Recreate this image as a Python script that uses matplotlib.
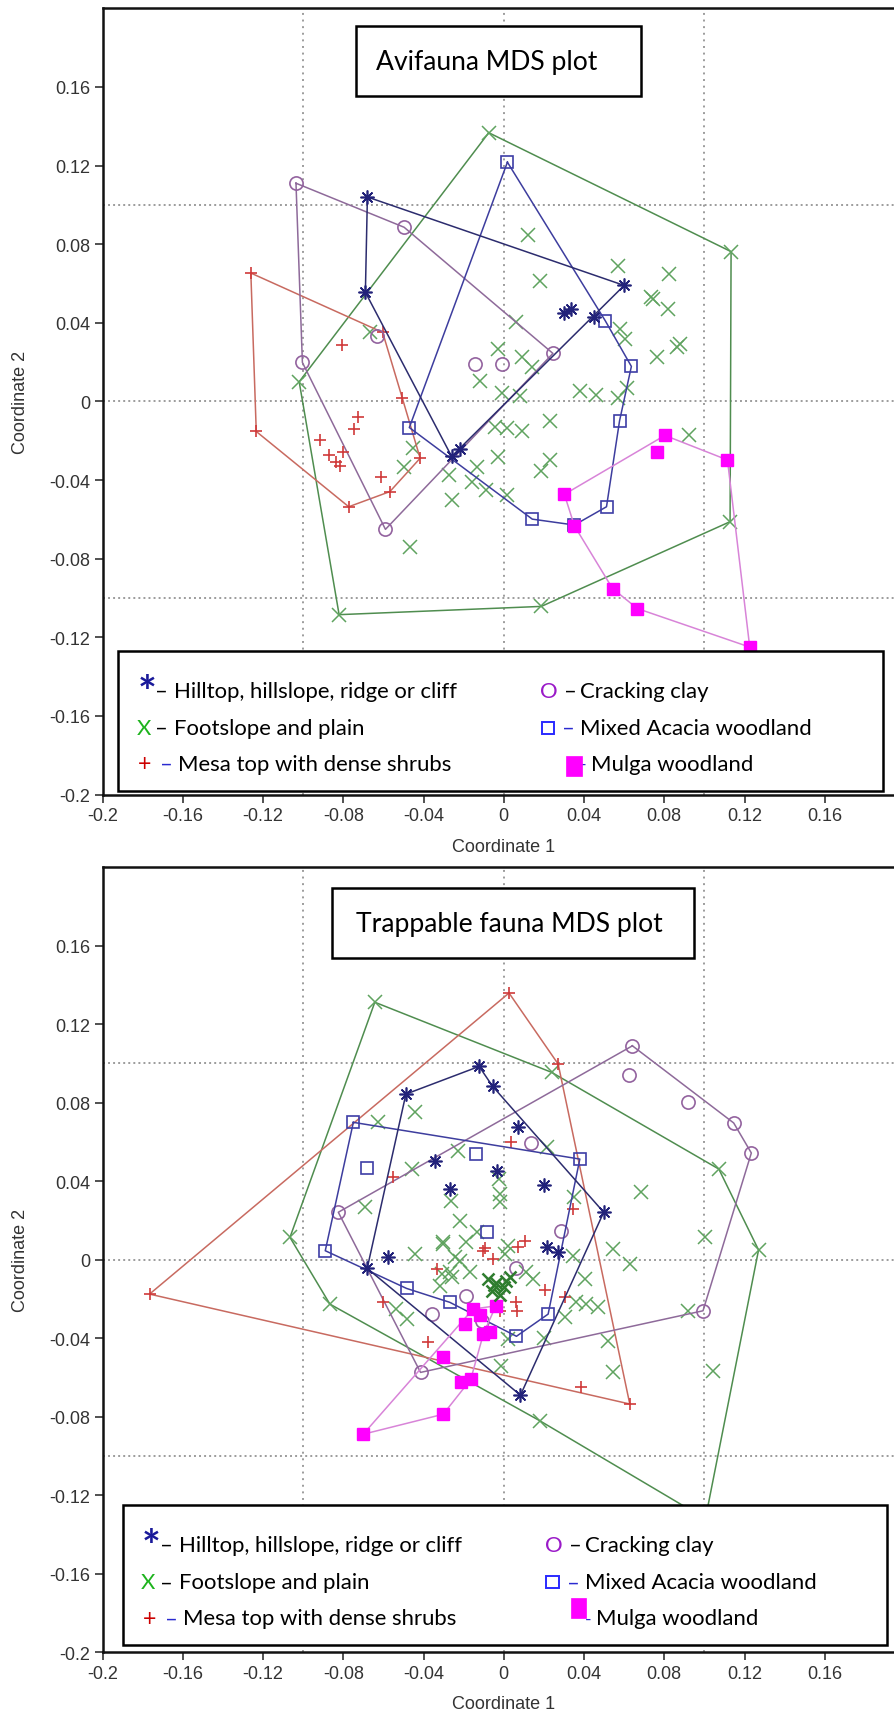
import matplotlib
matplotlib.use("Agg")
import matplotlib.pyplot as plt
from matplotlib.patches import Rectangle

plt.rcParams['font.family'] = ['Liberation Sans', 'DejaVu Sans']

W, H = 894, 1715

# ---------------- tick values / labels ----------------
tick_vals = [-0.2, -0.16, -0.12, -0.08, -0.04, 0, 0.04, 0.08, 0.12, 0.16]
tick_labels = ['-0.2', '-0.16', '-0.12', '-0.08', '-0.04', '0', '0.04', '0.08', '0.12', '0.16']
grid_vals = [-0.1, 0, 0.1]

# ---------------- Avifauna (top) ----------------
avi_hill_hull_x = [-0.068, 0.060, -0.026, -0.069]
avi_hill_hull_y = [0.104, 0.059, -0.028, 0.0555]
avi_hill_pts_x = [0.030, 0.0335, 0.045, -0.022]
avi_hill_pts_y = [0.045, 0.047, 0.043, -0.024]

avi_acacia_hull_x = [0.0018, 0.0506, 0.0636, 0.0577, 0.0512, 0.0352, 0.0142, -0.0471]
avi_acacia_hull_y = [0.1217, 0.041, 0.0178, -0.0099, -0.0536, -0.0629, -0.0599, -0.0133]
avi_acacia_pts_x = []
avi_acacia_pts_y = []

avi_clay_hull_x = [-0.1036, -0.0497, 0.0245, -0.059, -0.1004]
avi_clay_hull_y = [0.111, 0.0886, 0.0244, -0.0651, 0.0198]
avi_clay_pts_x = [-0.0142, -0.0009, -0.0631]
avi_clay_pts_y = [0.019, 0.019, 0.0334]

avi_mesa_hull_x = [-0.1261, -0.0604, -0.0506, -0.0417, -0.0568, -0.0773, -0.1234]
avi_mesa_hull_y = [0.0653, 0.0351, 0.0017, -0.0289, -0.0459, -0.0536, -0.0153]
avi_mesa_pts_x = [-0.0808, -0.0725, -0.0746, -0.0915, -0.087, -0.0835, -0.080, -0.0817, -0.0613]
avi_mesa_pts_y = [0.0287, -0.0077, -0.0139, -0.0196, -0.0272, -0.0306, -0.0255, -0.0327, -0.0383]

avi_foot_hull_x = [-0.0075, 0.1133, 0.1128, 0.0187, -0.0821, -0.102]
avi_foot_hull_y = [0.1367, 0.0762, -0.0612, -0.1043, -0.1085, 0.010]
avi_foot_pts_x = [0.0121, 0.0178, 0.0568, 0.0826, 0.0746, 0.0735, 0.0817, 0.0577, 0.0604, 0.0062,
                  -0.0027, 0.0089, 0.0142, 0.0764, 0.0861, 0.0879, -0.0666, -0.0121, -0.0009, 0.008,
                  0.0382, 0.0462, 0.0568, 0.0613, 0.0231, -0.0044, 0.0018, 0.0089, -0.0027, 0.0231,
                  0.0187, -0.0133, -0.0275, -0.016, -0.0089, 0.0018, -0.0258, -0.0497, -0.0453,
                  -0.0467, 0.0924]
avi_foot_pts_y = [0.0847, 0.0614, 0.0691, 0.0648, 0.0521, 0.053, 0.047, 0.0368, 0.0317, 0.0402,
                  0.0266, 0.0224, 0.0173, 0.0224, 0.0275, 0.029, 0.0351, 0.0102, 0.0043, 0.0026,
                  0.0054, 0.0034, 0.0017, 0.0068, -0.0099, -0.0128, -0.0136, -0.015, -0.0281, -0.0298,
                  -0.0354, -0.0332, -0.0374, -0.0408, -0.0451, -0.0476, -0.0502, -0.0332, -0.0238,
                  -0.074, -0.017]

avi_mulga_hull_x = [0.0302, 0.0803, 0.1115, 0.1226, 0.0666, 0.0542, 0.0352]
avi_mulga_hull_y = [-0.0473, -0.0173, -0.0298, -0.125, -0.1054, -0.0952, -0.0633]
avi_mulga_pts_x = [0.0764]
avi_mulga_pts_y = [-0.0259]

# ---------------- Trappable fauna (bottom) ----------------
trap_hill_hull_x = [-0.0123, -0.0056, 0.0498, 0.0083, -0.0681, -0.0488]
trap_hill_hull_y = [0.0985, 0.0884, 0.0242, -0.069, -0.0044, 0.0844]
trap_hill_pts_x = [0.0071, -0.0344, -0.0032, -0.0269, 0.0201, -0.0576, 0.0213, 0.0271]
trap_hill_pts_y = [0.0675, 0.0504, 0.0453, 0.036, 0.038, 0.0014, 0.0067, 0.0041]

trap_acacia_hull_x = [-0.075, 0.0379, 0.0221, 0.0063, -0.0269, -0.0485, -0.089]
trap_acacia_hull_y = [0.07, 0.0513, -0.0277, -0.039, -0.0217, -0.0146, 0.0046]
trap_acacia_pts_x = [-0.0684, -0.0139, -0.0086]
trap_acacia_pts_y = [0.0466, 0.0539, 0.014]

trap_clay_hull_x = [0.0641, 0.1146, 0.1234, 0.0993, -0.0415, -0.0825]
trap_clay_hull_y = [0.109, 0.0697, 0.0544, -0.026, -0.0574, 0.0242]
trap_clay_pts_x = [0.0624, 0.092, 0.0138, 0.0284, 0.0063, -0.0186, -0.036, -0.011]
trap_clay_pts_y = [0.0941, 0.0802, 0.0595, 0.0148, -0.0041, -0.0183, -0.0277, -0.031]

trap_mesa_hull_x = [0.0026, 0.0271, 0.0628, -0.1766]
trap_mesa_hull_y = [0.1359, 0.0997, -0.0735, -0.0175]
trap_mesa_pts_x = [0.0038, 0.0345, 0.0105, -0.0551, 0.0387, 0.0204, 0.0304, 0.0063, 0.0065, -0.002,
                   -0.0103, -0.0053, 0.0071, -0.0335, -0.0601, -0.0377, -0.0095]
trap_mesa_pts_y = [0.0598, 0.0258, 0.0097, 0.042, -0.065, -0.0156, -0.0192, -0.0217, -0.026, -0.026,
                   0.0046, 0.0004, 0.0063, -0.0047, -0.0217, -0.0421, 0.0059]

trap_foot_hull_x = [-0.0643, 0.0238, 0.1072, 0.127, 0.1005, 0.0179, -0.0867, -0.1066]
trap_foot_hull_y = [0.1312, 0.0955, 0.0462, 0.005, -0.132, -0.082, -0.0226, 0.0114]
trap_foot_pts_x = [-0.0443, -0.0626, -0.046, -0.0228, -0.0264, -0.0219, -0.0302, -0.0692, 0.0213, -0.0023,
                   -0.0018, -0.002, 0.0349, 0.0686, -0.0136, 0.1001, -0.0219, -0.0169, 0.0005, 0.0113,
                   0.0146, 0.0345, 0.0404, 0.0545, 0.0628, 0.0362, 0.047, 0.0304, 0.052, 0.0545,
                   0.020, -0.0012, 0.0021, 0.1043, 0.0918, -0.0443, -0.0302, -0.0245, -0.031, -0.026,
                   -0.0186, 0.0021, 0.0412, -0.0535, -0.0485, -0.0269, -0.0319]
trap_foot_pts_y = [0.0751, 0.07, 0.0462, 0.0555, 0.0301, 0.0199, 0.0089, 0.0267, 0.0573, 0.0411,
                   0.0335, 0.0292, 0.0318, 0.0343, 0.014, 0.0114, -0.0005, -0.0064, 0.0029, -0.0064,
                   -0.0098, 0.0021, -0.0098, 0.0055, -0.0021, -0.0217, -0.0243, -0.0294, -0.0413, -0.0574,
                   -0.040, -0.054, -0.0404, -0.0566, -0.026, 0.0029, 0.008, 0.0012, -0.0073, -0.009,
                   0.0089, 0.0071, -0.0226, -0.0251, -0.0302, -0.0064, -0.0132]
trap_foot_cluster_x = [-0.008, -0.004, 0.0, 0.003, -0.006, -0.002, 0.001, -0.005]
trap_foot_cluster_y = [-0.010, -0.012, -0.014, -0.009, -0.016, -0.018, -0.011, -0.013]

trap_mulga_hull_x = [-0.0701, -0.0302, -0.0165, -0.0102, -0.004, -0.0153]
trap_mulga_hull_y = [-0.0889, -0.0787, -0.061, -0.0379, -0.0235, -0.0251]
trap_mulga_pts_x = [-0.0215, -0.0305, -0.0194, -0.007, -0.012]
trap_mulga_pts_y = [-0.0625, -0.0497, -0.0327, -0.037, -0.028]

# ---------------- legend / titles text ----------------
title_top = 'Avifauna MDS plot'
title_bottom = 'Trappable fauna MDS plot'
leg_hill = 'Hilltop, hillslope, ridge or cliff'
leg_foot = 'Footslope and plain'
leg_mesa = 'Mesa top with dense shrubs'
leg_clay = 'Cracking clay'
leg_acacia = 'Mixed Acacia woodland'
leg_mulga = 'Mulga woodland'

# ---------------- styles ----------------
STY = {
    'hill':   dict(marker=(8, 2, 0), mc='#22227a', lc='#2c2c6e', ms=10, mew=1.2, fill=False),
    'acacia': dict(marker='s', mc='#3d3da6', lc='#3d3d9e', ms=9, mew=1.2, fill=False),
    'clay':   dict(marker='o', mc='#93639f', lc='#8e6a9a', ms=9.5, mew=1.2, fill=False),
    'mesa':   dict(marker='+', mc='#d03a3a', lc='#c86a60', ms=9, mew=1.2, fill=False),
    'foot':   dict(marker='x', mc='#5fa35f', lc='#4f8d4f', ms=9.5, mew=1.1, fill=False),
    'mulga':  dict(marker='s', mc='#ff00ff', lc='#d884d8', ms=8.5, mew=1.0, fill=True),
}

fig = plt.figure(figsize=(W / 100, H / 100), dpi=100)
fig.patch.set_facecolor('white')


def fx(px):
    return px / W


def fy(py):
    return 1 - py / H


def draw_group(ax, hx, hy, px, py, key, z):
    s = STY[key]
    ax.plot(list(hx) + [hx[0]], list(hy) + [hy[0]], color=s['lc'], lw=1.1, zorder=z)
    kw = dict(linestyle='none', marker=s['marker'], ms=s['ms'], mew=s['mew'], mec=s['mc'],
              zorder=z + 0.5)
    kw['mfc'] = s['mc'] if s['fill'] else 'none'
    ax.plot(list(hx) + list(px), list(hy) + list(py), **kw)


def setup_axes(ax):
    ax.set_xlim(-0.2, 0.2)
    ax.set_ylim(-0.2, 0.2)
    ax.set_xticks(tick_vals)
    ax.set_xticklabels(tick_labels)
    ax.set_yticks(tick_vals)
    ax.set_yticklabels(tick_labels)
    ax.tick_params(direction='out', length=6, width=1.1, labelsize=13, pad=3,
                   color='#222222', labelcolor='#333333')
    for v in grid_vals:
        ax.axvline(v, color='#9c9c9c', lw=1.4, ls=(0, (1, 2.4)), zorder=1)
        ax.axhline(v, color='#9c9c9c', lw=1.4, ls=(0, (1, 1.6)), zorder=1)
    for side in ['left', 'bottom', 'top']:
        ax.spines[side].set_linewidth(1.8)
        ax.spines[side].set_color('#111111')
    ax.spines['right'].set_visible(False)
    ax.set_xlabel('Coordinate 1', fontsize=13, color='#333333')
    ax.xaxis.label.set_va('center')
    ax.set_ylabel('Coordinate 2', fontsize=13, color='#333333')
    ax.yaxis.label.set_va('center')


ax1 = fig.add_axes([102.6 / W, (H - 795.5) / H, 802.4 / W, 786.2 / H])
ax2 = fig.add_axes([102.6 / W, (H - 1653.3) / H, 802.4 / W, 785.1 / H])
for ax in (ax1, ax2):
    setup_axes(ax)
ax1.xaxis.set_label_coords(0.5, -(848 - 795.5) / 786.2)
ax1.yaxis.set_label_coords((21 - 102.6) / 802.4, 0.5)
ax2.xaxis.set_label_coords(0.5, -(1705 - 1653.3) / 785.1)
ax2.yaxis.set_label_coords((21 - 102.6) / 802.4, 0.5)

# top plot groups
draw_group(ax1, avi_foot_hull_x, avi_foot_hull_y, avi_foot_pts_x, avi_foot_pts_y, 'foot', 2)
draw_group(ax1, avi_mesa_hull_x, avi_mesa_hull_y, avi_mesa_pts_x, avi_mesa_pts_y, 'mesa', 3)
draw_group(ax1, avi_clay_hull_x, avi_clay_hull_y, avi_clay_pts_x, avi_clay_pts_y, 'clay', 3)
draw_group(ax1, avi_acacia_hull_x, avi_acacia_hull_y, avi_acacia_pts_x, avi_acacia_pts_y, 'acacia', 4)
draw_group(ax1, avi_hill_hull_x, avi_hill_hull_y, avi_hill_pts_x, avi_hill_pts_y, 'hill', 4)
draw_group(ax1, avi_mulga_hull_x, avi_mulga_hull_y, avi_mulga_pts_x, avi_mulga_pts_y, 'mulga', 5)

# bottom plot groups
draw_group(ax2, trap_foot_hull_x, trap_foot_hull_y, trap_foot_pts_x, trap_foot_pts_y, 'foot', 2)
ax2.plot(trap_foot_cluster_x, trap_foot_cluster_y, linestyle='none', marker='x', ms=9, mew=1.8,
         color='#2f7d2f', zorder=6)
draw_group(ax2, trap_mesa_hull_x, trap_mesa_hull_y, trap_mesa_pts_x, trap_mesa_pts_y, 'mesa', 3)
draw_group(ax2, trap_clay_hull_x, trap_clay_hull_y, trap_clay_pts_x, trap_clay_pts_y, 'clay', 3)
draw_group(ax2, trap_acacia_hull_x, trap_acacia_hull_y, trap_acacia_pts_x, trap_acacia_pts_y, 'acacia', 4)
draw_group(ax2, trap_hill_hull_x, trap_hill_hull_y, trap_hill_pts_x, trap_hill_pts_y, 'hill', 4)
draw_group(ax2, trap_mulga_hull_x, trap_mulga_hull_y, trap_mulga_pts_x, trap_mulga_pts_y, 'mulga', 5)

# ---------------- font size fitting ----------------
renderer = fig.canvas.get_renderer()


def fit_size(text, target_px, family='Lato'):
    t = fig.text(0, 0, text, fontsize=10, family=family)
    w = t.get_window_extent(renderer).width
    t.remove()
    return 10 * target_px / w


title_fs = fit_size(title_top, 221)
leg_fs = fit_size(leg_mesa, 273.5)


def box(x0, y0, x1, y1, lw=1.8):
    r = Rectangle((fx(x0), fy(y1)), (x1 - x0) / W, (y1 - y0) / H, transform=fig.transFigure,
                  facecolor='white', edgecolor='black', lw=lw, zorder=10)
    fig.add_artist(r)


def ftext(x, y, s, size, color='black', ha='left', va='center', weight='normal'):
    fig.text(fx(x), fy(y), s, fontsize=size, color=color, ha=ha, va=va, family='Lato',
             zorder=11, fontweight=weight)


# titles
box(355.8, 26.7, 640.8, 96.7)
ftext(486.5, 62.5, title_top, title_fs, ha='center')
box(331.8, 889.3, 694.4, 958.7)
ftext(509, 925, title_bottom, title_fs, ha='center')


def legend(dx, dy, rect_dy):
    box(118 + dx, 651.7 + dy, 882.6 + dx, 791.7 + dy)
    r1, r2, r3 = 691.7 + dy, 729 + dy, 765 + dy
    # row 1
    ftext(147 + dx, r1 + 2, '*', leg_fs * 2.0, color='#1a1a9a', ha='center', weight='bold')
    ftext(155 + dx, r1, '–', leg_fs)
    ftext(174 + dx, r1, leg_hill, leg_fs)
    ftext(549 + dx, r1, 'O', leg_fs, color='#9a1ac8', ha='center')
    ftext(564 + dx, r1, '–', leg_fs)
    ftext(580 + dx, r1, leg_clay, leg_fs)
    # row 2
    ftext(143.7 + dx, r2, 'X', leg_fs, color='#1db31d', ha='center')
    ftext(155 + dx, r2, '–', leg_fs)
    ftext(174 + dx, r2, leg_foot, leg_fs)
    sq = Rectangle((fx(541.6 + dx), fy(735 + dy)), 12.6 / W, 12.3 / H, transform=fig.transFigure,
                   facecolor='white', edgecolor='#2a2aff', lw=1.4, zorder=11)
    fig.add_artist(sq)
    ftext(562 + dx, r2, '–', leg_fs, color='#2a2ad0')
    ftext(580 + dx, r2, leg_acacia, leg_fs)
    # row 3
    ftext(145 + dx, r3, '+', leg_fs * 1.05, color='#cc0000', ha='center')
    ftext(160 + dx, r3, '–', leg_fs, color='#2a2ad0')
    ftext(178.5 + dx, r3, leg_mesa, leg_fs)
    ftext(580 + dx, r3, '-', leg_fs * 0.8, color='#2a2ad0')
    mg = Rectangle((fx(566 + dx), fy(777 + dy + rect_dy)), 15.5 / W, 20 / H, transform=fig.transFigure,
                   facecolor='#ff00ff', edgecolor='#ff00ff', lw=0.5, zorder=12)
    fig.add_artist(mg)
    ftext(591 + dx, r3, leg_mulga, leg_fs)


legend(0, 0, 0)
legend(4.6, 854.3, -12)

fig.savefig('out.png', dpi=100, facecolor='white')
